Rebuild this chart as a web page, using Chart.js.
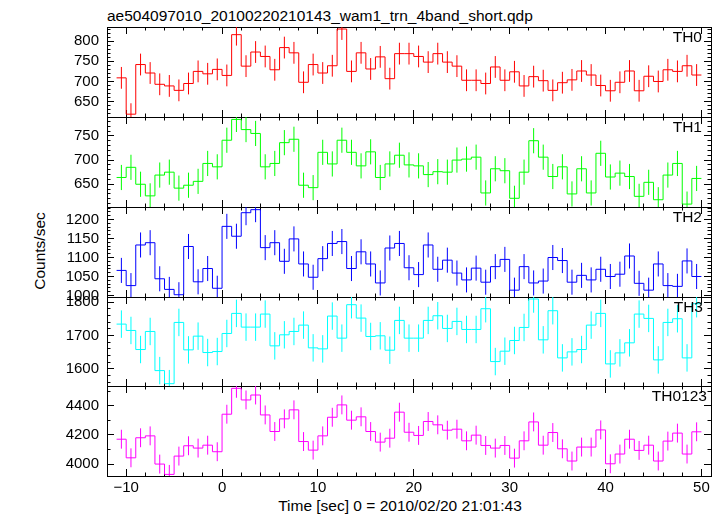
<!DOCTYPE html>
<html>
<head>
<meta charset="utf-8">
<script src="https://cdn.jsdelivr.net/npm/chart.js@4.4.0/dist/chart.umd.min.js"></script>
<style>
  body { margin: 0; background: #fff; }
  #wrap { position: relative; width: 723px; height: 516px; overflow: hidden;
          font-family: "Liberation Sans", Arial, sans-serif; }
  #wrap canvas { position: absolute; left: 0; top: 0; }
  .txt { position: absolute; font-size: 15.5px; line-height: 16px; color: #000; white-space: nowrap; }
</style>
</head>
<body>
<div id="wrap">
  <div class="txt" style="left:107px; top:8px;">ae504097010_20100220210143_wam1_trn_4band_short.qdp</div>
  <div class="txt" style="left:-20px; top:243px; width:120px; text-align:center; transform:rotate(-90deg);">Counts/sec</div>
  <div class="txt" style="left:250px; top:498px; width:300px; text-align:center;">Time [sec] 0 = 2010/02/20 21:01:43</div>
</div>
<script>
// bin centres (sec), 1 s bins
const times = [-10.5, -9.5, -8.5, -7.5, -6.5, -5.5, -4.5, -3.5, -2.5, -1.5, -0.5,
  0.5, 1.5, 2.5, 3.5, 4.5, 5.5, 6.5, 7.5, 8.5, 9.5, 10.5, 11.5, 12.5, 13.5, 14.5,
  15.5, 16.5, 17.5, 18.5, 19.5, 20.5, 21.5, 22.5, 23.5, 24.5, 25.5, 26.5, 27.5,
  28.5, 29.5, 30.5, 31.5, 32.5, 33.5, 34.5, 35.5, 36.5, 37.5, 38.5, 39.5, 40.5,
  41.5, 42.5, 43.5, 44.5, 45.5, 46.5, 47.5, 48.5, 49.5];
const binHalf = 0.5;

const th0 = [709, 619, 742, 721, 693, 689, 678, 695, 725, 719, 730, 715, 816, 738, 773, 762,
  729, 784, 771, 698, 742, 721, 739, 830, 725, 771, 731, 761, 707, 769, 769, 762, 748, 769,
  748, 738, 703, 703, 695, 736, 703, 724, 689, 712, 702, 678, 697, 704, 726, 716, 690, 677,
  698, 726, 677, 713, 700, 729, 725, 739, 716];
const th1 = [664, 685, 650, 626, 669, 675, 642, 648, 656, 693, 686, 741, 784, 763, 755, 686,
  693, 736, 743, 648, 643, 716, 692, 741, 716, 688, 717, 664, 692, 710, 690, 688, 670, 676,
  675, 700, 702, 706, 632, 682, 678, 621, 675, 740, 706, 666, 686, 630, 682, 632, 714, 665,
  673, 666, 625, 654, 618, 669, 693, 609, 662];
const th2 = [1066, 1026, 1133, 1139, 1044, 1016, 1002, 1129, 1036, 1071, 1019, 1182, 1156,
  1218, 1226, 1126, 1139, 1090, 1149, 1083, 1048, 1097, 1137, 1142, 1071, 1115, 1083, 1033,
  1125, 1137, 1073, 1055, 1133, 1069, 1093, 1059, 1041, 1072, 1035, 1076, 1095, 1014, 1076,
  1033, 1038, 1100, 1092, 1035, 1053, 1041, 1069, 1050, 1056, 1104, 1032, 1014, 1083, 1026,
  1024, 1091, 1050];
const th3 = [1734, 1715, 1658, 1712, 1595, 1556, 1739, 1657, 1698, 1649, 1652, 1706, 1766,
  1725, 1725, 1764, 1669, 1702, 1712, 1731, 1663, 1660, 1758, 1692, 1792, 1752, 1697, 1699,
  1656, 1745, 1692, 1692, 1745, 1759, 1721, 1742, 1718, 1718, 1780, 1622, 1653, 1685, 1724,
  1809, 1687, 1774, 1633, 1651, 1658, 1731, 1766, 1615, 1648, 1678, 1764, 1751, 1627, 1739,
  1750, 1633, 1795];
const th0123 = [4171, 4043, 4181, 4194, 4000, 3929, 4055, 4126, 4110, 4130, 4085, 4343, 4521,
  4441, 4475, 4338, 4224, 4311, 4373, 4155, 4096, 4194, 4322, 4407, 4302, 4325, 4224, 4151,
  4178, 4357, 4219, 4197, 4293, 4270, 4233, 4240, 4160, 4199, 4128, 4110, 4128, 4041, 4160,
  4290, 4130, 4217, 4105, 4021, 4117, 4117, 4235, 4002, 4069, 4171, 4094, 4130, 4021, 4158,
  4213, 4069, 4222];

const names = ["TH0", "TH1", "TH2", "TH3", "TH0123"];
const series = [th0, th1, th2, th3, th0123];
const errs = [27, 26, 33, 41, 65];          // typical error bar half length per panel
const colors = ["#ff0000", "#00ff00", "#0000ff", "#00ffff", "#ff00ff"];
const yMin = [612, 603, 996, 1549, 3918];
const yMax = [835, 789, 1233, 1815, 4537];
const yTicks = [[650, 700, 750, 800], [650, 700, 750], [1000, 1050, 1100, 1150, 1200],
  [1600, 1700, 1800], [4000, 4200, 4400]];
const yMinorStep = [10, 10, 10, 20, 100];
const xTicks = [-10, 0, 10, 20, 30, 40, 50];
const xMinorStep = 2;
const xMin = -12, xMax = 51;

const panelTop = [27, 117, 207, 297, 386];
const panelBottom = [117, 207, 297, 386, 476];
const labelRight = [21, 21, 21, 20, 16];
const W = 723, H = 516;
const LEFT = 107, RIGHT = 711;
const FONT = "'Liberation Sans', Arial, sans-serif";

function minorTicks(lo, hi, step) {
  const out = [];
  for (let v = Math.ceil(lo / step) * step; v <= hi; v += step) out.push(v);
  return out;
}

// size: width (vertical) or height (horizontal) of the axis box
function axis(pos, min, max, values, len, labels, size, pad, weight) {
  return {
    type: "linear",
    position: pos,
    min: min,
    max: max,
    weight: weight || 0,
    afterFit: (s) => { if (s.isHorizontal()) s.height = size; else s.width = size; },
    afterBuildTicks: (s) => { s.ticks = values.map((v) => ({ value: v })); },
    grid: { drawOnChartArea: false, tickLength: -len, tickColor: "#000", tickWidth: 1 },
    border: { display: true, color: "#000", width: 1 },
    ticks: {
      display: labels,
      autoSkip: false,
      maxRotation: 0,
      padding: pad || 0,
      color: "#000",
      font: { family: FONT, size: 15 },
      callback: (v) => (v < 0 ? "\u2212" + Math.abs(v) : String(v))
    }
  };
}

const wrap = document.getElementById("wrap");

names.forEach((name, i) => {
  const canvas = document.createElement("canvas");
  canvas.width = W;
  canvas.height = H;
  wrap.appendChild(canvas);

  const vals = series[i];
  const step = times.map((t, k) => ({ x: t - binHalf, y: vals[k] }));
  step.push({ x: times[times.length - 1] + binHalf, y: vals[vals.length - 1] });

  const bars = [];
  times.forEach((t, k) => {
    bars.push({ x: t, y: vals[k] - errs[i] }, { x: t, y: vals[k] + errs[i] }, { x: t, y: null });
  });

  const last = i === names.length - 1;
  const xMinor = minorTicks(xMin, xMax, xMinorStep);
  const yMinor = minorTicks(yMin[i], yMax[i], yMinorStep[i]);
  const bottomSize = last ? H - panelBottom[i] : 0;

  new Chart(canvas, {
    type: "line",
    data: {
      datasets: [
        {
          data: step,
          stepped: true,
          borderColor: colors[i],
          borderWidth: 1,
          pointRadius: 0,
          fill: false,
          tension: 0
        },
        {
          data: bars,
          borderColor: colors[i],
          borderWidth: 1,
          pointRadius: 0,
          spanGaps: false,
          fill: false
        }
      ]
    },
    options: {
      responsive: false,
      animation: false,
      devicePixelRatio: 1,
      events: [],
      layout: {
        padding: { left: 0, right: W - RIGHT, top: panelTop[i], bottom: H - panelBottom[i] - bottomSize }
      },
      plugins: { legend: { display: false }, tooltip: { enabled: false }, title: { display: false } },
      scales: {
        x: axis("bottom", xMin, xMax, xTicks, 7, last, bottomSize, 10, 1),
        xm: axis("bottom", xMin, xMax, xMinor, 3.5, false, 0),
        xt: axis("top", xMin, xMax, xTicks, 7, false, 0),
        xtm: axis("top", xMin, xMax, xMinor, 3.5, false, 0),
        y: axis("left", yMin[i], yMax[i], yTicks[i], 7, true, LEFT, 15, 1),
        ym: axis("left", yMin[i], yMax[i], yMinor, 3.5, false, 0),
        yr: axis("right", yMin[i], yMax[i], yTicks[i], 7, false, 0),
        yrm: axis("right", yMin[i], yMax[i], yMinor, 3.5, false, 0)
      }
    }
  });

  const lab = document.createElement("div");
  lab.className = "txt";
  lab.style.right = labelRight[i] + "px";
  lab.style.top = (panelTop[i] + 2) + "px";
  lab.textContent = name;
  wrap.appendChild(lab);
});
</script>
</body>
</html>
